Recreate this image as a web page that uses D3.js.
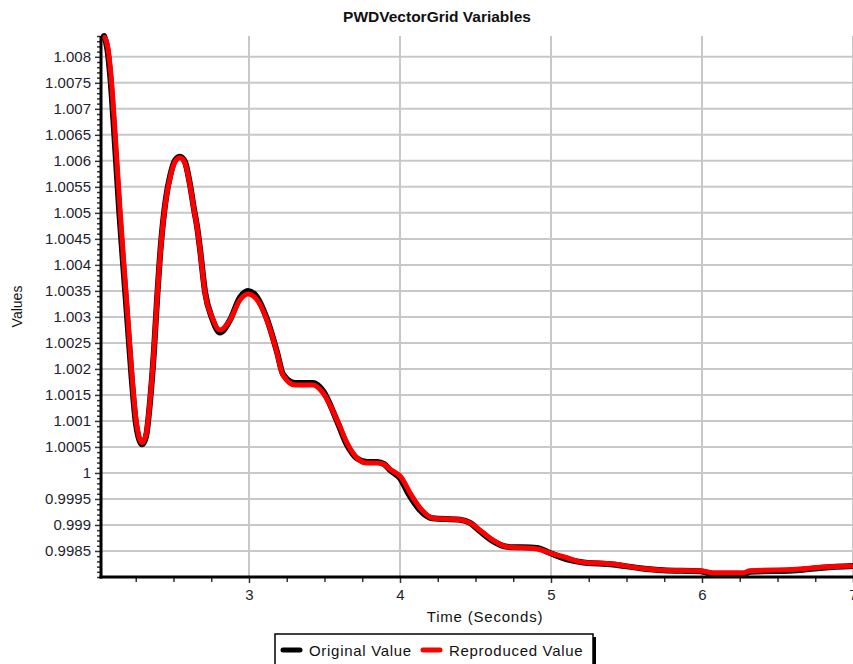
<!DOCTYPE html>
<html>
<head>
<meta charset="utf-8">
<script src="https://cdn.jsdelivr.net/npm/d3@7"></script>
<style>
  body { margin: 0; background: #fff; }
  svg { display: block; font-family: "Liberation Sans", Arial, sans-serif; }
  .tick text { fill: #1e1e2e; }
</style>
</head>
<body>
<svg width="853" height="664"></svg>
<script>
// time (s) and values
const timeRepro = [2.046, 2.066, 2.086, 2.112, 2.146, 2.172, 2.199, 2.225, 2.252, 2.272, 2.292, 2.318, 2.345, 2.371, 2.391, 2.417, 2.450, 2.477, 2.510, 2.543, 2.576, 2.609, 2.636, 2.656, 2.676, 2.709, 2.755, 2.808, 2.874, 2.941, 2.994, 3.053, 3.119, 3.186, 3.225, 3.305, 3.424, 3.490, 3.583, 3.649, 3.715, 3.782, 3.850, 3.895, 3.940, 4.007, 4.066, 4.133, 4.219, 4.398, 4.464, 4.530, 4.616, 4.709, 4.907, 4.994, 5.106, 5.192, 5.411, 5.590, 5.742, 5.987, 6.073, 6.272, 6.318, 6.629, 6.801, 7.000]
const valueRepro = [1.00837, 1.00817, 1.00765, 1.00660, 1.00506, 1.00400, 1.00294, 1.00188, 1.00102, 1.00069, 1.00058, 1.00073, 1.00140, 1.00237, 1.00333, 1.00438, 1.00525, 1.00567, 1.00598, 1.00606, 1.00596, 1.00554, 1.00506, 1.00473, 1.00429, 1.00346, 1.00300, 1.00275, 1.00294, 1.00333, 1.00344, 1.00333, 1.00294, 1.00231, 1.00188, 1.00169, 1.00169, 1.00154, 1.00102, 1.00058, 1.00029, 1.00019, 1.00019, 1.00016, 1.00006, 0.99992, 0.99962, 0.99933, 0.99913, 0.99910, 0.99904, 0.99890, 0.99871, 0.99858, 0.99854, 0.99846, 0.99837, 0.99829, 0.99825, 0.99817, 0.99813, 0.99812, 0.99808, 0.99808, 0.99812, 0.99815, 0.99819, 0.99821]

const timeOrig = [2.040, 2.062, 2.082, 2.108, 2.142, 2.169, 2.196, 2.223, 2.250, 2.271, 2.292, 2.318, 2.345, 2.371, 2.391, 2.417, 2.450, 2.477, 2.510, 2.543, 2.576, 2.609, 2.636, 2.656, 2.676, 2.709, 2.755, 2.808, 2.874, 2.941, 2.994, 3.053, 3.119, 3.186, 3.225, 3.305, 3.424, 3.490, 3.583, 3.649, 3.715, 3.782, 3.850, 3.895, 3.936, 4.000, 4.060, 4.128, 4.215, 4.398, 4.464, 4.530, 4.616, 4.709, 4.907, 4.994, 5.106, 5.192, 5.411, 5.590, 5.742, 5.987, 6.073, 6.272, 6.318, 6.629, 6.801, 7.000]
const valueOrig = [1.00840, 1.00815, 1.00760, 1.00652, 1.00498, 1.00392, 1.00288, 1.00183, 1.00098, 1.00066, 1.00055, 1.00070, 1.00138, 1.00236, 1.00333, 1.00440, 1.00528, 1.00570, 1.00601, 1.00608, 1.00598, 1.00555, 1.00507, 1.00474, 1.00430, 1.00348, 1.00298, 1.00270, 1.00294, 1.00338, 1.00350, 1.00338, 1.00296, 1.00232, 1.00190, 1.00173, 1.00173, 1.00158, 1.00100, 1.00054, 1.00028, 1.00021, 1.00021, 1.00017, 1.00005, 0.99990, 0.99958, 0.99930, 0.99913, 0.99910, 0.99904, 0.99888, 0.99869, 0.99858, 0.99856, 0.99846, 0.99834, 0.99829, 0.99824, 0.99817, 0.99813, 0.99811, 0.99806, 0.99805, 0.99810, 0.99813, 0.99818, 0.99821]

const seriesNames = ['Original Value', 'Reproduced Value']
const seriesColors = ['#000000', '#ff0000']
const xTickValues = [3, 4, 5, 6, 7]
const yTickValues = [0.9985, 0.999, 0.9995, 1, 1.0005, 1.001, 1.0015, 1.002, 1.0025, 1.003, 1.0035, 1.004, 1.0045, 1.005, 1.0055, 1.006, 1.0065, 1.007, 1.0075, 1.008]

const svg = d3.select('svg')
const margin = { top: 36, right: 0, bottom: 87, left: 101 }
const width = +svg.attr('width') - margin.left - margin.right
const height = +svg.attr('height') - margin.top - margin.bottom

const x = d3.scaleLinear().domain([2.02, 7]).range([0, width])
const y = d3.scaleLinear().domain([0.998, 1.0084]).range([height, 0])

const g = svg.append('g')
  .attr('transform', `translate(${margin.left},${margin.top})`)

// grid
g.append('g').selectAll('line')
  .data(yTickValues)
  .enter().append('line')
  .attr('x1', 0).attr('x2', width)
  .attr('y1', d => y(d)).attr('y2', d => y(d))
  .attr('stroke', '#c8c8c8').attr('stroke-width', 2)

g.append('g').selectAll('line')
  .data(xTickValues)
  .enter().append('line')
  .attr('x1', d => x(d)).attr('x2', d => x(d))
  .attr('y1', 0).attr('y2', height)
  .attr('stroke', '#c8c8c8').attr('stroke-width', 2)

// minor ticks
const xMinor = d3.range(2.25, 7.001, 0.25).filter(t => Math.abs(t - Math.round(t)) > 0.01)
const yMinor = d3.range(0, 105).map(i => +(0.998 + i * 0.0001).toFixed(4))
  .filter(v => !yTickValues.some(t => Math.abs(t - v) < 1e-6))

g.append('g')
  .attr('transform', `translate(0,${height})`)
  .call(d3.axisBottom(x).tickValues(xMinor).tickSize(5).tickFormat(''))
  .call(a => a.select('.domain').remove())
  .call(a => a.selectAll('line').attr('stroke', '#333').attr('stroke-width', 1.5))

g.append('g')
  .call(d3.axisLeft(y).tickValues(yMinor).tickSize(4).tickFormat(''))
  .call(a => a.select('.domain').remove())
  .call(a => a.selectAll('line').attr('stroke', '#333').attr('stroke-width', 1.5))

// major axes
g.append('g')
  .attr('transform', `translate(0,${height})`)
  .call(d3.axisBottom(x).tickValues(xTickValues).tickSize(6).tickPadding(6).tickFormat(d3.format('d')))
  .call(a => a.select('.domain').remove())
  .call(a => a.selectAll('line').attr('stroke', '#333').attr('stroke-width', 1.5))
  .call(a => a.selectAll('text').attr('font-size', 15).attr('font-family', '"Liberation Sans", Arial, sans-serif'))

g.append('g')
  .call(d3.axisLeft(y).tickValues(yTickValues).tickSize(6).tickPadding(4).tickFormat(d => String(+d.toFixed(4))))
  .call(a => a.select('.domain').remove())
  .call(a => a.selectAll('line').attr('stroke', '#333').attr('stroke-width', 1.5))
  .call(a => a.selectAll('text').attr('font-size', 15).attr('font-family', '"Liberation Sans", Arial, sans-serif'))

// axis lines
g.append('line').attr('x1', 0).attr('x2', 0).attr('y1', 0).attr('y2', height + 1.5)
  .attr('stroke', '#000').attr('stroke-width', 3)
g.append('line').attr('x1', -1.5).attr('x2', width).attr('y1', height).attr('y2', height)
  .attr('stroke', '#000').attr('stroke-width', 3)

// series
const line = d3.line()
  .x(d => x(d[0]))
  .y(d => y(d[1]))
  .curve(d3.curveMonotoneX)

const series = [
  d3.zip(timeOrig, valueOrig),
  d3.zip(timeRepro, valueRepro)
]
const widths = [6, 5]

g.append('g').selectAll('path')
  .data(series)
  .enter().append('path')
  .attr('d', line)
  .attr('fill', 'none')
  .attr('stroke', (d, i) => seriesColors[i])
  .attr('stroke-width', (d, i) => widths[i])
  .attr('stroke-linejoin', 'round')
  .attr('stroke-linecap', 'round')

// title + labels
svg.append('text')
  .attr('x', 437).attr('y', 22)
  .attr('text-anchor', 'middle')
  .attr('font-size', 15.5).attr('font-weight', 'bold')
  .attr('fill', '#111')
  .text('PWDVectorGrid Variables')

svg.append('text')
  .attr('transform', `translate(22,${margin.top + height / 2}) rotate(-90)`)
  .attr('text-anchor', 'middle')
  .attr('font-size', 14)
  .attr('fill', '#111')
  .text('Values')

svg.append('text')
  .attr('x', 485).attr('y', 622)
  .attr('text-anchor', 'middle')
  .attr('font-size', 15)
  .attr('letter-spacing', 0.8)
  .attr('fill', '#111')
  .text('Time (Seconds)')

// legend
const legend = svg.append('g').attr('transform', 'translate(275,634)')
legend.append('rect')
  .attr('x', 3).attr('y', 3).attr('width', 318).attr('height', 40)
  .attr('fill', '#000')
legend.append('rect')
  .attr('x', 0).attr('y', 0).attr('width', 318).attr('height', 40)
  .attr('fill', '#fff').attr('stroke', '#000').attr('stroke-width', 1.5)

const legendX = [8, 148]
const item = legend.selectAll('.item')
  .data(seriesNames)
  .enter().append('g')
  .attr('class', 'item')
  .attr('transform', (d, i) => `translate(${legendX[i]},16)`)
item.append('line')
  .attr('x1', 0).attr('x2', 17)
  .attr('stroke', (d, i) => seriesColors[i])
  .attr('stroke-width', 5).attr('stroke-linecap', 'round')
item.append('text')
  .attr('x', 26).attr('y', 5.5)
  .attr('font-size', 15)
  .attr('letter-spacing', 0.7)
  .attr('fill', '#111')
  .text(d => d)
</script>
</body>
</html>
